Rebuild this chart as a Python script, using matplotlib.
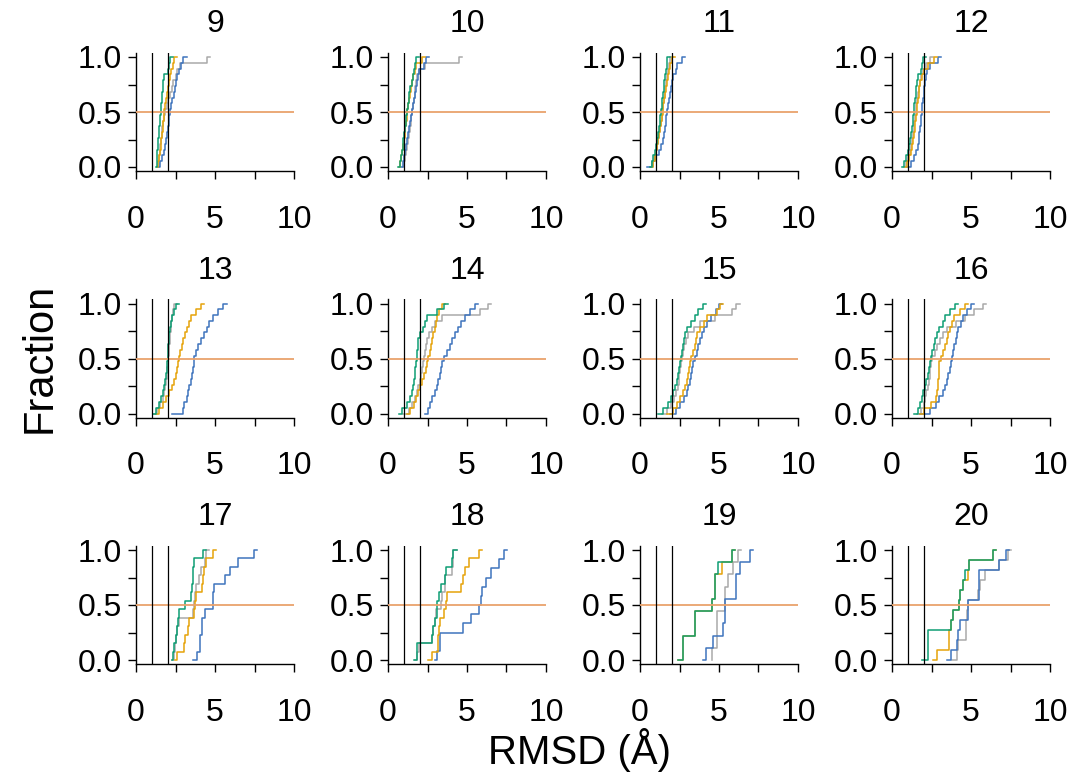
import numpy as np
import matplotlib
matplotlib.use("Agg")
import matplotlib.pyplot as plt

plt.rcParams["font.family"] = ["Liberation Sans", "DejaVu Sans"]

# paleta
AZUL, NARANJA, VERDE, GRIS = "#3F74BD", "#E6A30A", "#0E9E74", "#A9A9A9"
LINEA_H = "#E9A26C"

PANELES = [9, 10, 11, 12, 13, 14, 15, 16, 17, 18, 19, 20]

# valores RMSD ordenados (curvas acumuladas) por panel y serie
verde_9 = [1.27, 1.30, 1.33, 1.36, 1.40, 1.42, 1.45, 1.48, 1.50, 1.53, 1.57, 1.60, 1.63, 1.67, 1.70, 1.73, 1.75, 2.05, 2.10, 2.15]
naranja_9 = [1.35, 1.42, 1.48, 1.52, 1.57, 1.60, 1.65, 1.68, 1.72, 1.76, 1.80, 1.85, 1.90, 1.95, 2.00, 2.08, 2.15, 2.20, 2.32, 2.40]
gris_9 = [1.41, 1.45, 1.48, 1.52, 1.55, 1.58, 1.62, 1.65, 1.70, 1.75, 1.85, 1.95, 2.05, 2.15, 2.25, 2.35, 2.50, 2.62, 2.80, 4.47]
azul_9 = [1.48, 1.55, 1.65, 1.75, 1.85, 1.92, 1.98, 2.03, 2.08, 2.12, 2.18, 2.24, 2.30, 2.38, 2.45, 2.52, 2.60, 2.70, 2.85, 3.00]

verde_10 = [0.65, 0.76, 0.80, 0.86, 0.92, 0.98, 1.03, 1.08, 1.12, 1.16, 1.20, 1.25, 1.30, 1.35, 1.42, 1.50, 1.58, 1.67, 1.72, 1.77]
naranja_10 = [0.68, 0.78, 0.84, 0.90, 0.96, 1.01, 1.06, 1.10, 1.14, 1.18, 1.22, 1.27, 1.32, 1.38, 1.45, 1.52, 1.60, 1.70, 1.80, 2.13]
gris_10 = [0.97, 1.02, 1.08, 1.14, 1.20, 1.26, 1.32, 1.38, 1.44, 1.48, 1.52, 1.56, 1.62, 1.68, 1.72, 1.78, 1.85, 1.95, 2.34, 4.51]
azul_10 = [0.82, 0.92, 1.00, 1.08, 1.14, 1.18, 1.24, 1.32, 1.40, 1.46, 1.52, 1.58, 1.64, 1.70, 1.76, 1.84, 1.92, 1.98, 2.30, 2.40]

verde_11 = [0.63, 0.74, 0.85, 0.95, 1.03, 1.10, 1.15, 1.20, 1.25, 1.29, 1.33, 1.37, 1.41, 1.46, 1.51, 1.55, 1.60, 1.65, 1.69, 1.73]
naranja_11 = [0.74, 0.82, 0.92, 1.02, 1.10, 1.17, 1.23, 1.29, 1.34, 1.39, 1.43, 1.48, 1.53, 1.58, 1.63, 1.70, 1.77, 1.84, 1.92, 2.00]
gris_11 = [0.70, 0.80, 0.90, 1.00, 1.08, 1.15, 1.21, 1.27, 1.32, 1.37, 1.41, 1.46, 1.51, 1.56, 1.61, 1.67, 1.73, 1.79, 1.85, 1.90]
azul_11 = [0.42, 0.74, 0.95, 1.20, 1.35, 1.45, 1.50, 1.56, 1.62, 1.67, 1.71, 1.76, 1.82, 1.88, 1.94, 2.02, 2.12, 2.25, 2.32, 2.64]

verde_12 = [0.65, 0.78, 0.90, 1.02, 1.10, 1.15, 1.20, 1.25, 1.30, 1.34, 1.38, 1.42, 1.46, 1.50, 1.53, 1.56, 1.62, 1.81, 1.90, 1.98]
naranja_12 = [0.82, 0.95, 1.08, 1.20, 1.28, 1.35, 1.40, 1.44, 1.48, 1.52, 1.56, 1.61, 1.66, 1.70, 1.74, 1.80, 1.90, 2.05, 2.30, 2.66]
gris_12 = [0.75, 0.88, 1.00, 1.12, 1.20, 1.27, 1.33, 1.38, 1.42, 1.46, 1.50, 1.55, 1.60, 1.66, 1.72, 1.78, 1.86, 1.98, 2.15, 2.40]
azul_12 = [0.97, 1.20, 1.40, 1.55, 1.64, 1.69, 1.73, 1.77, 1.81, 1.84, 1.88, 1.92, 1.96, 2.00, 2.04, 2.10, 2.18, 2.24, 2.40, 2.93]

verde_13 = [1.10, 1.27, 1.45, 1.60, 1.73, 1.80, 1.86, 1.90, 1.94, 1.97, 2.00, 2.03, 2.05, 2.08, 2.12, 2.16, 2.19, 2.25, 2.40, 2.53]
naranja_13 = [1.27, 1.48, 1.69, 1.90, 2.11, 2.25, 2.40, 2.50, 2.58, 2.64, 2.74, 2.80, 2.90, 3.00, 3.10, 3.20, 3.35, 3.48, 3.80, 4.11]
gris_13 = [1.15, 1.35, 1.55, 1.68, 1.78, 1.85, 1.90, 1.94, 1.98, 2.01, 2.04, 2.07, 2.10, 2.13, 2.16, 2.20, 2.24, 2.30, 2.36, 2.40]
azul_13 = [2.26, 2.95, 3.05, 3.20, 3.30, 3.38, 3.45, 3.52, 3.58, 3.64, 3.67, 3.80, 3.94, 4.10, 4.30, 4.47, 4.65, 4.85, 5.20, 5.53]

verde_14 = [0.68, 0.88, 1.18, 1.40, 1.55, 1.60, 1.65, 1.70, 1.74, 1.77, 1.82, 1.86, 1.90, 1.92, 2.05, 2.24, 2.35, 2.45, 3.10, 3.57]
naranja_14 = [1.18, 1.42, 1.65, 1.80, 1.92, 2.05, 2.18, 2.28, 2.38, 2.45, 2.55, 2.63, 2.72, 2.80, 2.87, 2.95, 3.05, 3.12, 3.25, 3.40]
gris_14 = [0.97, 1.30, 1.55, 1.70, 1.82, 1.92, 2.00, 2.07, 2.13, 2.19, 2.28, 2.36, 2.42, 2.45, 2.60, 2.76, 3.00, 3.40, 5.82, 6.35]
azul_14 = [2.34, 2.55, 2.66, 2.80, 2.97, 3.08, 3.18, 3.27, 3.34, 3.40, 3.55, 3.71, 3.90, 4.05, 4.24, 4.45, 4.65, 4.87, 5.20, 5.50]

verde_15 = [1.16, 1.48, 1.80, 1.95, 2.11, 2.22, 2.32, 2.40, 2.46, 2.53, 2.58, 2.65, 2.72, 2.78, 2.85, 3.00, 3.20, 3.48, 3.70, 4.00]
naranja_15 = [1.69, 2.10, 2.35, 2.55, 2.74, 2.85, 2.95, 3.03, 3.10, 3.16, 3.25, 3.35, 3.45, 3.52, 3.59, 3.80, 4.05, 4.26, 4.85, 5.06]
gris_15 = [1.38, 1.70, 1.95, 2.15, 2.30, 2.38, 2.44, 2.49, 2.53, 2.58, 2.65, 2.73, 2.80, 2.90, 3.05, 3.40, 3.80, 4.75, 5.80, 6.10]
azul_15 = [1.90, 2.30, 2.55, 2.78, 2.95, 3.05, 3.15, 3.24, 3.31, 3.38, 3.48, 3.58, 3.68, 3.80, 3.90, 4.05, 4.22, 4.50, 4.80, 5.00]

verde_16 = [1.41, 1.67, 1.80, 1.90, 1.98, 2.08, 2.18, 2.27, 2.34, 2.41, 2.48, 2.56, 2.65, 2.74, 2.83, 3.00, 3.20, 3.35, 3.70, 3.99]
naranja_16 = [1.77, 2.00, 2.45, 2.80, 2.87, 2.90, 2.93, 2.96, 2.98, 3.00, 3.10, 3.22, 3.35, 3.47, 3.57, 3.70, 3.82, 3.93, 4.30, 4.62]
gris_16 = [1.60, 1.85, 2.00, 2.10, 2.18, 2.26, 2.33, 2.38, 2.42, 2.45, 2.55, 2.70, 2.85, 3.05, 3.25, 3.45, 4.05, 4.60, 5.20, 5.78]
azul_16 = [1.77, 2.40, 2.78, 3.00, 3.20, 3.35, 3.45, 3.55, 3.65, 3.72, 3.78, 3.86, 3.95, 4.05, 4.13, 4.20, 4.35, 4.52, 4.75, 4.98]

verde_17 = [2.28, 2.36, 2.41, 2.53, 2.57, 2.64, 2.74, 3.10, 3.46, 3.52, 3.59, 3.63, 3.67, 4.26]
naranja_17 = [2.47, 2.57, 3.06, 3.10, 3.31, 3.38, 3.67, 3.73, 3.80, 4.20, 4.24, 4.30, 4.40, 4.89]
gris_17 = [2.30, 2.38, 2.45, 2.55, 2.60, 2.70, 3.59, 3.65, 3.73, 3.80, 4.00, 4.11, 4.37, 4.43]
azul_17 = [3.59, 3.84, 4.05, 4.05, 4.16, 4.16, 4.37, 4.85, 4.85, 4.96, 5.63, 5.95, 6.48, 7.47]

verde_18 = [1.65, 1.86, 1.86, 2.76, 2.85, 2.97, 3.12, 3.12, 3.20, 3.33, 3.61, 3.70, 4.03, 4.14]
naranja_18 = [2.55, 2.76, 3.19, 3.19, 3.22, 3.29, 3.57, 3.67, 3.76, 4.62, 4.75, 4.87, 5.15, 5.78]
gris_18 = [1.70, 1.86, 1.95, 2.76, 2.85, 2.97, 3.05, 3.33, 3.40, 3.61, 3.61, 4.03, 4.10, 4.14]
azul_18 = [2.97, 3.12, 3.29, 3.29, 4.73, 5.23, 5.78, 5.89, 5.95, 6.20, 6.50, 7.05, 7.34]

verde_19 = [2.43, 2.70, 2.74, 3.50, 3.50, 4.54, 4.75, 4.75, 4.92, 5.80]
naranja_19 = [2.43, 2.70, 2.74, 3.50, 3.50, 4.54, 4.75, 4.75, 5.17, 5.80]
gris_19 = [4.54, 4.54, 4.89, 4.89, 4.89, 5.38, 5.38, 5.55, 5.86, 6.22]
azul_19 = [3.97, 4.18, 4.60, 5.27, 5.38, 5.38, 6.08, 6.08, 6.33, 6.96]

verde_20 = [1.88, 2.30, 2.30, 2.30, 3.71, 3.88, 4.24, 4.30, 4.47, 4.64, 4.85, 6.41]
naranja_20 = [2.62, 2.87, 3.61, 3.61, 3.71, 3.88, 4.24, 4.30, 4.47, 4.83, 4.85, 6.41]
gris_20 = [3.78, 4.09, 4.20, 4.68, 4.68, 4.76, 4.83, 5.42, 5.55, 5.89, 6.79, 7.36]
azul_20 = [3.50, 3.73, 4.09, 4.16, 4.30, 4.83, 4.83, 5.53, 5.53, 5.53, 6.79, 7.22]

UMBRALES = [1, 2]       # lineas verticales (A)
FRACCION_REF = 0.5      # linea horizontal

datos = {}
for p in PANELES:
    g = globals()
    datos[p] = [(g[f"gris_{p}"], GRIS), (g[f"azul_{p}"], AZUL),
                (g[f"naranja_{p}"], NARANJA), (g[f"verde_{p}"], VERDE)]

W, H = 1069, 774
fig = plt.figure(figsize=(W / 100, H / 100), dpi=100)

izq_px = [136, 388, 640, 892]
arr_px = [52.6, 299.1, 545.6]
ancho_px, alto_px = 158, 118.8

for k, p in enumerate(PANELES):
    fila, col = divmod(k, 4)
    ax = fig.add_axes([izq_px[col] / W, 1 - (arr_px[fila] + alto_px) / H,
                       ancho_px / W, alto_px / H])
    for valores, color in datos[p]:
        x = np.sort(np.asarray(valores, dtype=float))
        y = np.linspace(0, 1, len(x))
        x = np.append(x, x[-1] + 0.2)
        y = np.append(y, 1.0)
        ax.step(x, y, where="post", color=color, lw=1.1, zorder=2)
    ax.axhline(FRACCION_REF, color=LINEA_H, lw=1.3, zorder=3)
    for u in UMBRALES:
        ax.axvline(u, color="black", lw=0.9, zorder=4)

    ax.set_xlim(0, 10)
    ax.set_ylim(-0.04, 1.04)
    ax.set_xticks([0, 5, 10])
    ax.set_xticks([2.5, 7.5], minor=True)
    ax.set_yticks([0, 0.5, 1.0])
    ax.set_yticks([0.25, 0.75], minor=True)
    ax.set_yticklabels(["0.0", "0.5", "1.0"])
    for s in ["top", "right"]:
        ax.spines[s].set_visible(False)
    for s in ["left", "bottom"]:
        ax.spines[s].set_linewidth(1.0)
    ax.tick_params(which="both", length=6, width=1.0, labelsize=23)
    ax.tick_params(axis="x", which="both", pad=18)
    ax.tick_params(axis="y", which="both", pad=4)
    ax.set_title(str(p), fontsize=23, pad=14.5)

fig.text(40 / W, 1 - 358 / H, "Fraction", rotation=90, fontsize=30,
         ha="center", va="center")
fig.text(579 / W, 1.5 / H, "RMSD (Å)", fontsize=29,
         ha="center", va="bottom")

fig.savefig("out.png", dpi=100)
